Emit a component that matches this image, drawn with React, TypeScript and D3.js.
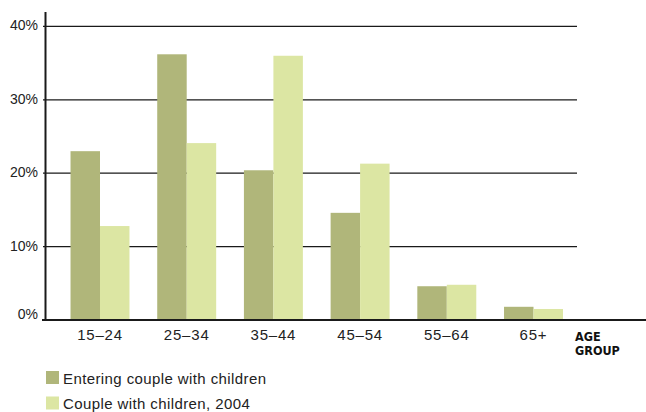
import React from "react";
import * as d3 from "d3";

const categories = ["15–24", "25–34", "35–44", "45–54", "55–64", "65+"];
const seriesNames = ["Entering couple with children", "Couple with children, 2004"];
const entering = [23.0, 36.2, 20.4, 14.6, 4.6, 1.8];
const couple2004 = [12.8, 24.1, 36.0, 21.3, 4.8, 1.5];
const yTicks = [0, 10, 20, 30, 40];
const colors = ["#b0b67a", "#dce6a3"];

const W = 646;
const H = 412;

export default function App() {
  const y = d3.scaleLinear().domain([0, 40]).range([320, 26.4]);
  const x = d3
    .scaleBand<string>()
    .domain(categories)
    .range([56.65, 576.85])
    .paddingInner(0.32)
    .paddingOuter(0.16);
  const xs = d3.scaleBand<string>().domain(seriesNames).range([0, x.bandwidth()]);
  const series = [entering, couple2004];
  const font = "'Liberation Sans', Arial, sans-serif";

  return (
    <svg
      width={W}
      height={H}
      style={{ position: "absolute", left: 0, top: 0, background: "#fff" }}
    >
      {/* gridlines */}
      {yTicks
        .filter((t) => t > 0)
        .map((t) => (
          <line key={t} x1={43} x2={577} y1={y(t)} y2={y(t)} stroke="#1a1a1a" strokeWidth={1.2} />
        ))}
      {/* bars */}
      {series.map((vals, si) =>
        vals.map((v, i) => (
          <rect
            key={`${si}-${i}`}
            x={(x(categories[i]) ?? 0) + (xs(seriesNames[si]) ?? 0)}
            y={y(v)}
            width={xs.bandwidth()}
            height={y(0) - y(v)}
            fill={colors[si]}
          />
        ))
      )}
      {/* axes */}
      <line x1={45.5} x2={45.5} y1={12} y2={320} stroke="#1a1a1a" strokeWidth={2} />
      <line x1={42} x2={646} y1={y(0)} y2={y(0)} stroke="#1a1a1a" strokeWidth={2} />
      {/* y tick labels */}
      {yTicks.map((t) => (
        <text
          key={t}
          x={38}
          y={t === 0 ? y(t) - 1 : y(t) + 4}
          textAnchor="end"
          fontFamily={font}
          fontSize={14}
          fill="#222"
        >
          {`${t}%`}
        </text>
      ))}
      {/* x tick labels */}
      {categories.map((c) => (
        <text
          key={c}
          x={(x(c) ?? 0) + x.bandwidth() / 2}
          y={340}
          textAnchor="middle"
          fontFamily={font}
          fontSize={15}
          letterSpacing={0.8}
          fill="#222"
        >
          {c}
        </text>
      ))}
      <text
        x={575}
        fontFamily="'Liberation Sans Narrow', 'DejaVu Sans Condensed', sans-serif"
        fontWeight="bold"
        fontSize={12.5}
        fill="#111"
      >
        <tspan x={575} y={341}>AGE</tspan>
        <tspan x={575} y={355}>GROUP</tspan>
      </text>
      {/* legend */}
      {seriesNames.map((s, i) => (
        <g key={s} transform={`translate(46, ${371 + i * 25.5})`}>
          <rect x={0} y={0} width={13} height={13} fill={colors[i]} />
          <text x={17} y={12.5} fontFamily={font} fontSize={15} letterSpacing={0.4} fill="#222">
            {s}
          </text>
        </g>
      ))}
    </svg>
  );
}
